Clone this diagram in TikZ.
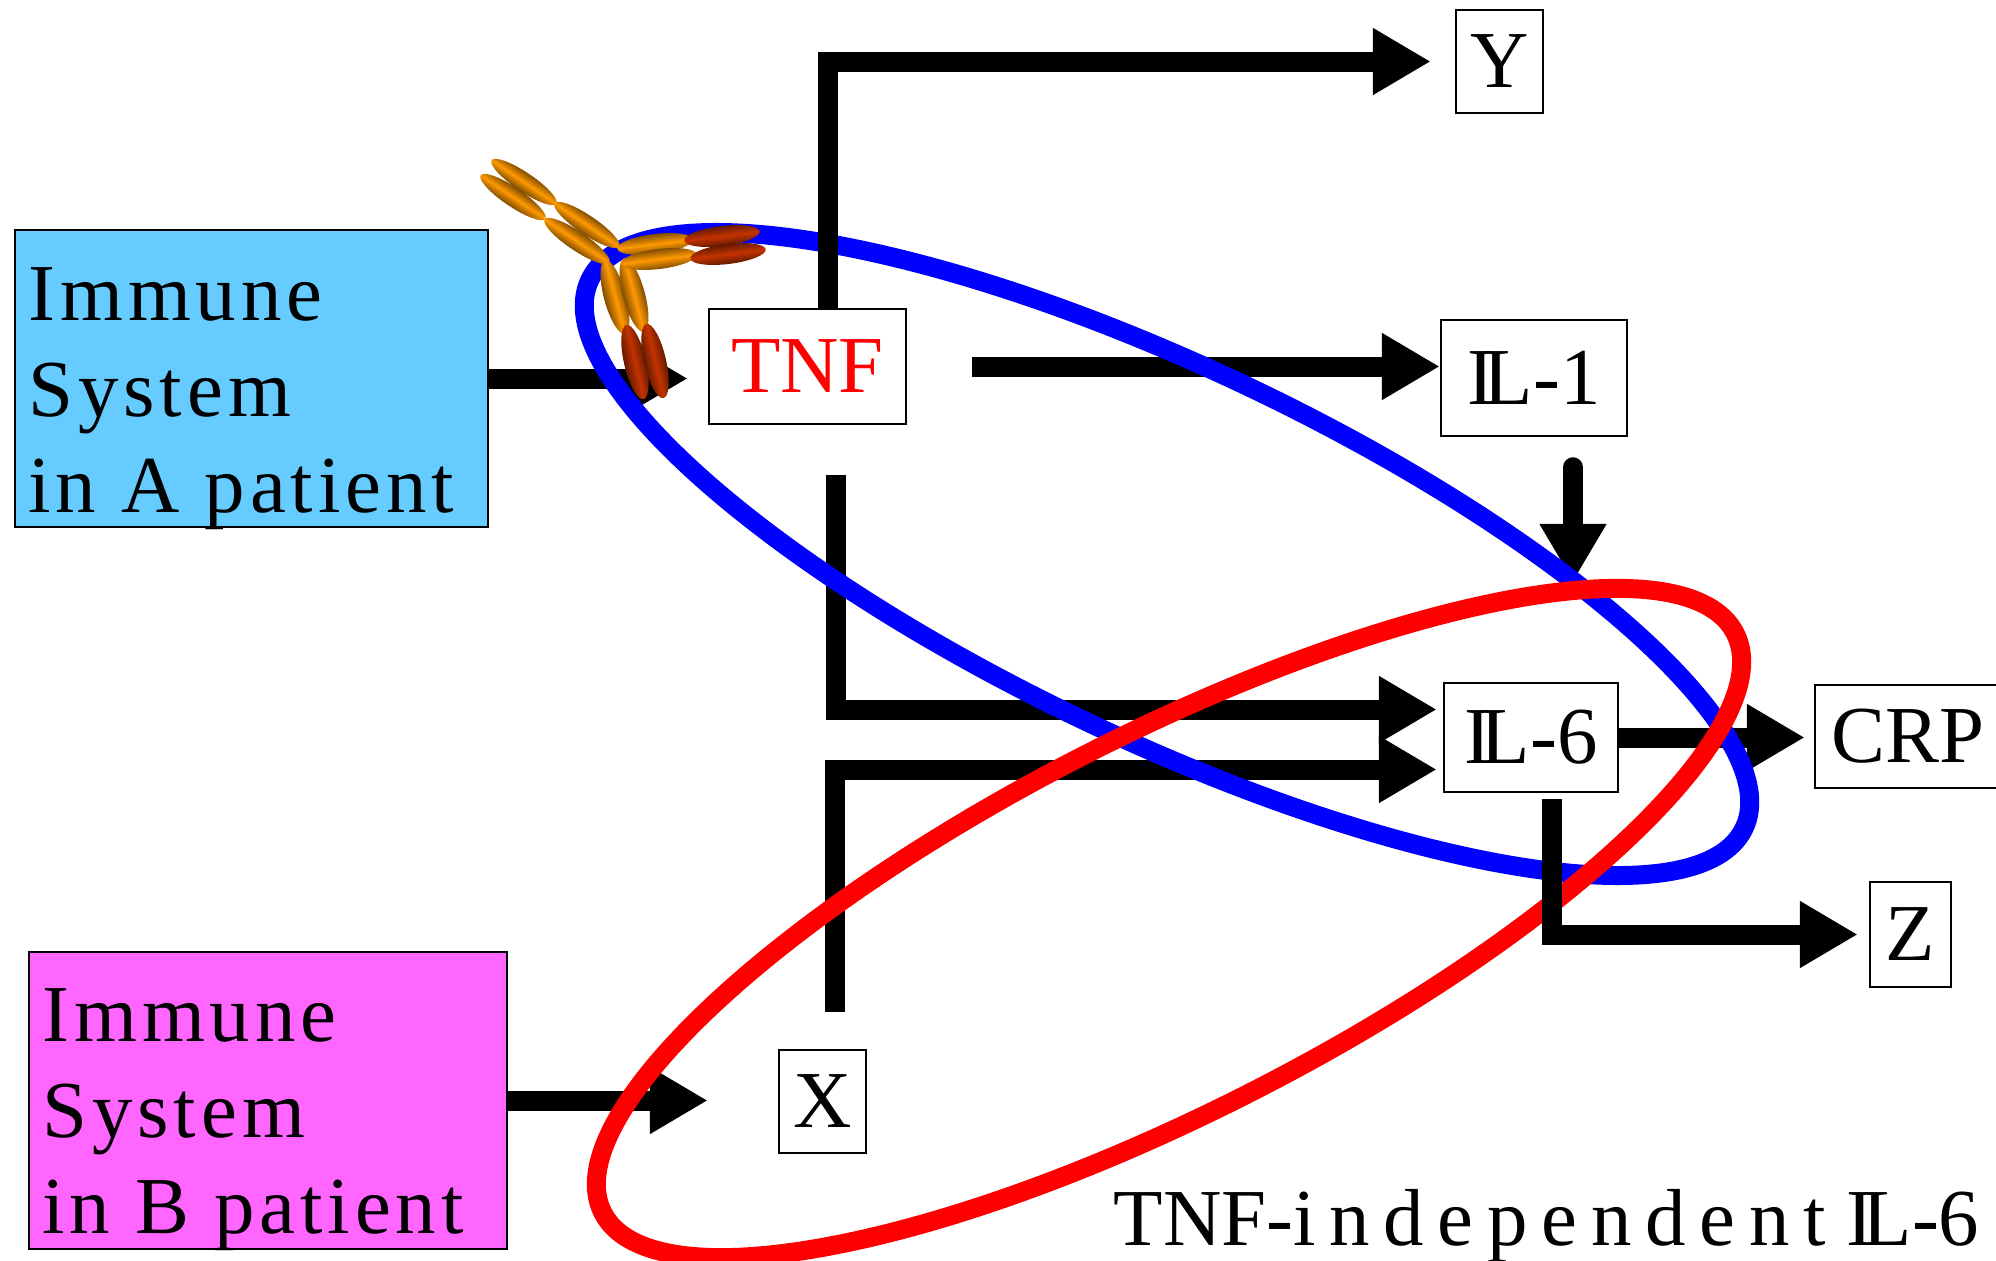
\documentclass[tikz,border=0pt]{standalone}
\usepackage{fontspec}
\setmainfont{Liberation Serif}
\usetikzlibrary{arrows.meta}

\definecolor{sysA}{HTML}{66CCFF}
\definecolor{sysB}{HTML}{FF66FF}
\definecolor{abOrange}{HTML}{FF9900}
\definecolor{abRed}{HTML}{C43300}

% the I and L sit tight together
\newcommand\IL{I\kern-.13em L}

% one shaded lobe of the antibody: x, y, angle, radii, colour
\newcommand\abseg[5]{%
  \shade[transform canvas={shift={(#1,#2)},rotate=#3},
    top color=#5!50!black, bottom color=#5!50!black, middle color=#5]
    (0,0) ellipse (#4);}

\tikzset{
  box/.style={draw, line width=0.7pt, fill=white, inner sep=0pt,
    font=\fontsize{23}{27}\selectfont},
  sysbox/.style={draw, line width=0.7pt, inner sep=0pt,
    minimum height=2.97cm},
  systext/.style={anchor=north west, inner sep=0pt, align=left,
    font=\fontsize{23}{27.3}\selectfont\addfontfeature{LetterSpace=6}},
  arr/.style={line width=2mm, line join=miter,
    -{Triangle[length=5.8mm,width=6.3mm]}},
  ring/.style={line width=1.9mm},
}

\begin{document}
\begin{tikzpicture}
\useasboundingbox (0,0) rectangle (19.96,12.60);

% the two patients
\node[sysbox, fill=sysA, minimum width=4.73cm] (A) at (2.515,8.815) {};
\node[systext] (Atxt) at (0.28,9.93) {Immune\\System\\in A patient};
\node[sysbox, fill=sysB, minimum width=4.78cm] (B) at (2.68,1.595) {};
\node[systext] (Btxt) at (0.42,2.72) {Immune\\System\\in B patient};

% mediators
\node[box, text=red, minimum width=1.97cm, minimum height=1.15cm] (TNF) at (8.075,8.935) {TNF};
\node[box, minimum width=0.87cm, minimum height=1.03cm] (Y) at (14.995,11.985) {Y};
\node[box, minimum width=1.86cm, minimum height=1.16cm] (IL1) at (15.34,8.82) {\IL-1};
\node[box, minimum width=1.74cm, minimum height=1.09cm] (IL6) at (15.31,5.225) {\IL-6};
\node[box, minimum width=1.86cm, minimum height=1.03cm] (CRP) at (19.08,5.235) {CRP};
\node[box, minimum width=0.81cm, minimum height=1.05cm] (Z) at (19.105,3.255) {Z};
\node[box, minimum width=0.87cm, minimum height=1.03cm] (X) at (8.225,1.585) {X};

% pathways
\draw[arr] (A.east) -- ([xshift=-2mm]A.east -| TNF.west);
\draw[arr] (B.east) -- ([xshift=-7mm]B.east -| X.west);
\draw[arr] ([xshift=6.5mm]TNF.east) -- (TNF.east -| IL1.west);
\draw[arr] ([xshift=2.8mm,yshift=-5mm]TNF.south) |- ([xshift=-0.6mm,yshift=2.8mm]IL6.west);
\draw[arr] ([xshift=1.25mm,yshift=3.7mm]X.north) |- ([xshift=-0.6mm,yshift=-3.2mm]IL6.west);
\draw[arr, line cap=round, shorten >=10mm] ([xshift=3.9mm,yshift=-3mm]IL1.south) -- ([xshift=3.9mm]IL1.south |- IL6.north);
\draw[arr] (IL6.east) -- ([xshift=-0.9mm]IL6.east -| CRP.west);

% blocked by anti-TNF / TNF-independent
\draw[ring, blue, rotate around={-25.4:(11.67,7.06)}] (11.67,7.06) ellipse (6.39 and 1.86);
\draw[ring, red, rotate around={27.1:(11.69,3.37)}] (11.69,3.37) ellipse (6.36 and 1.88);

\draw[arr] ([xshift=2mm]TNF.north) |- ([xshift=-2.4mm]Y.west);
\draw[arr] ([xshift=2.1mm,yshift=-0.6mm]IL6.south) |- ([xshift=-1.1mm]Z.west);

\node[anchor=base east, inner sep=0pt, font=\fontsize{23}{27}\selectfont] (note) at (19.80,0.15)
  {TNF-{\addfontfeature{LetterSpace=17}independent} \IL-6};

% antibody
\abseg{5.24}{10.78}{-34}{0.39 and 0.095}{abOrange}
\abseg{5.13}{10.63}{-34}{0.39 and 0.095}{abOrange}
\abseg{5.87}{10.35}{-34}{0.39 and 0.095}{abOrange}
\abseg{5.77}{10.19}{-34}{0.39 and 0.095}{abOrange}
\abseg{6.15}{9.63}{-75}{0.38 and 0.11}{abOrange}
\abseg{6.34}{9.65}{-75}{0.38 and 0.11}{abOrange}
\abseg{6.35}{8.98}{-77}{0.38 and 0.11}{abRed}
\abseg{6.55}{8.99}{-77}{0.38 and 0.11}{abRed}
\abseg{6.55}{10.16}{7}{0.38 and 0.10}{abOrange}
\abseg{6.59}{10.01}{7}{0.38 and 0.10}{abOrange}
\abseg{7.22}{10.24}{7}{0.38 and 0.10}{abRed}
\abseg{7.28}{10.06}{7}{0.38 and 0.10}{abRed}
\end{tikzpicture}
\end{document}
